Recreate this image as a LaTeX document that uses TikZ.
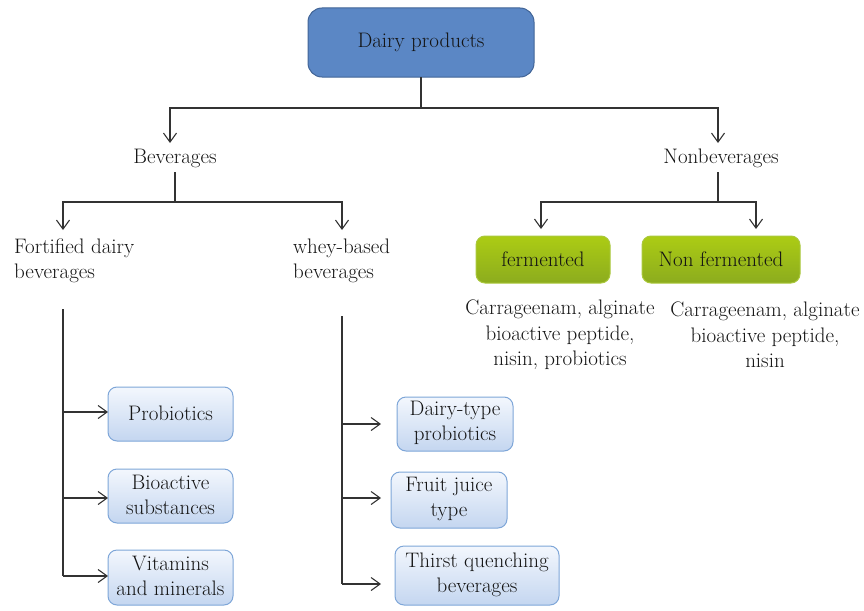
\documentclass[tikz,border=0pt]{standalone}
\usetikzlibrary{arrows.meta}
\begin{document}
\begin{tikzpicture}[x=1pt,y=-1pt,
  txt/.style={font=\fontsize{21}{25.5}\selectfont, text={rgb,255:red,20;green,20;blue,20}, inner sep=0pt, align=center},
  conn/.style={draw=black!80, line width=1.2pt},
  arr/.style={conn, -{Straight Barb[length=9pt,width=13pt,line width=1.1pt]}},
  topbox/.style={draw={rgb,255:red,65;green,100;blue,150}, fill={rgb,255:red,91;green,135;blue,197}, line width=1pt, rounded corners=14pt},
  bluebox/.style={draw={rgb,255:red,126;green,166;blue,216}, line width=1pt, rounded corners=9pt, top color={rgb,255:red,243;green,247;blue,253}, bottom color={rgb,255:red,196;green,214;blue,240}},
  greenbox/.style={draw={rgb,255:red,170;green,200;blue,60}, line width=1pt, rounded corners=9pt, top color={rgb,255:red,172;green,204;blue,20}, bottom color={rgb,255:red,140;green,172;blue,30}}
]
\useasboundingbox (0,0) rectangle (864,610);

% top box
\draw[topbox] (308,8) rectangle (534,77);
\node[txt] (dairy) at (421,42) {Dairy products};
\coordinate (dbot) at (421,77);

\node[txt] (bev) at (175,158) {Beverages};
\node[txt] (nonbev) at (721,158) {Nonbeverages};

\coordinate (j1) at (421,108);
\coordinate (bevtop) at (170,143);
\coordinate (nbtop) at (718,143);
\draw[conn] (dbot) -- (j1);
\draw[arr] (j1) -| (bevtop);
\draw[arr] (j1) -| (nbtop);

% beverages split
\coordinate (bb) at (175,172);
\coordinate (j2) at (175,202);
\node[txt, anchor=west, align=left] (fort) at (14,261) {Fortified dairy\\beverages};
\node[txt, anchor=west, align=left] (whey) at (293,261) {whey-based\\beverages};
\coordinate (forttop) at (63,230);
\coordinate (wheytop) at (342,230);
\draw[conn] (bb) -- (j2);
\draw[arr] (j2) -| (forttop);
\draw[arr] (j2) -| (wheytop);

% nonbeverages split
\coordinate (nb) at (718,172);
\coordinate (j3) at (718,202);
\draw[greenbox] (476,236) rectangle (610,283);
\node[txt] (ferm) at (543,259) {fermented};
\draw[greenbox] (642,236) rectangle (800,283);
\node[txt] (nonferm) at (721,259) {Non fermented};
\coordinate (fermtop) at (541,229);
\coordinate (nonfermtop) at (756,229);
\draw[conn] (nb) -- (j3);
\draw[arr] (j3) -| (fermtop);
\draw[arr] (j3) -| (nonfermtop);

\node[txt] (fermtxt) at (560,335) {Carrageenam, alginate\\bioactive peptide,\\nisin, probiotics};
\node[txt] (nonfermtxt) at (765,335) {Carrageenam, alginate\\bioactive peptide,\\nisin};

% left column
\draw[bluebox] (108,387) rectangle (233,441);
\node[txt] (prob) at (170.5,413) {Probiotics};
\draw[bluebox] (108,469) rectangle (233,523);
\node[txt] (bioact) at (170.5,495) {Bioactive\\substances};
\draw[bluebox] (108,550) rectangle (233,605);
\node[txt] (vit) at (170.5,576) {Vitamins\\and minerals};

\coordinate (l0) at (63,309);
\coordinate (l1) at (63,412);
\coordinate (l2) at (63,498);
\coordinate (l3) at (63,576);
\draw[conn] (l0) -- (l3);
\draw[arr] (l1) -- (108,412);
\draw[arr] (l2) -- (108,498);
\draw[arr] (l3) -- (108,576);

% middle column
\draw[bluebox] (397,397) rectangle (513,451);
\node[txt] (dtp) at (455,423) {Dairy-type\\probiotics};
\draw[bluebox] (391,472) rectangle (507,528);
\node[txt] (fjt) at (449,499) {Fruit juice\\type};
\draw[bluebox] (395,546) rectangle (559,605);
\node[txt] (tqb) at (477,575) {Thirst quenching\\beverages};

\coordinate (m0) at (342,316);
\coordinate (m1) at (342,424);
\coordinate (m2) at (342,498);
\coordinate (m3) at (342,584);
\draw[conn] (m0) -- (m3);
\draw[arr] (m1) -- (381,424);
\draw[arr] (m2) -- (381,498);
\draw[arr] (m3) -- (381,584);
\end{tikzpicture}
\end{document}
